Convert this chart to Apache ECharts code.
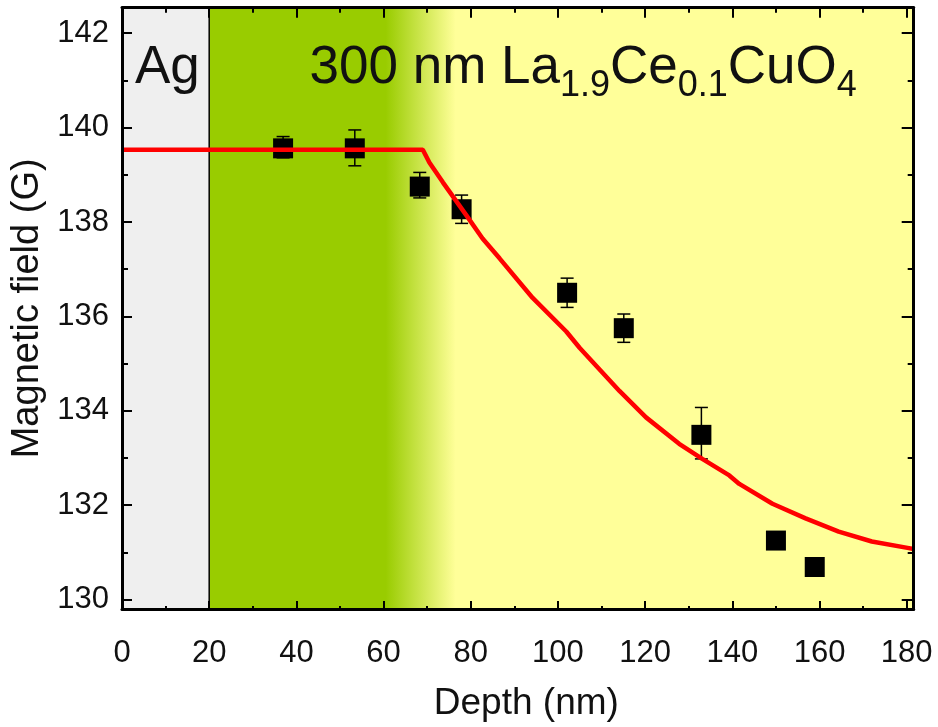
<!DOCTYPE html>
<html>
<head>
<meta charset="utf-8">
<script src="https://cdn.jsdelivr.net/npm/echarts@6/dist/echarts.min.js"></script>
<style>
  html, body { margin: 0; padding: 0; background: #fff; }
  #chart { width: 938px; height: 727px; }
</style>
</head>
<body>
<div id="chart"></div>
<script>
// Measured mean field vs. implantation depth
const depth     = [36.95, 53.4, 68.3, 77.9, 102.1, 115.1, 132.9, 150.0, 158.9];
const field     = [139.56, 139.56, 138.75, 138.27, 136.50, 135.75, 133.49, 131.25, 130.69];
const fieldHigh = [139.81, 139.95, 139.05, 138.57, 136.81, 136.05, 134.07, null, null];
const fieldLow  = [139.36, 139.19, 138.51, 137.97, 136.19, 135.45, 132.98, null, null];

// Model field profile (screened field below the film surface)
const fitDepth = [0, 69.0, 70.5, 73.6, 79.0, 82.7, 86.6, 94.2, 101.9, 105.0, 114.1, 120.2,
                  127.8, 133.1, 139.3, 141.6, 149.2, 156.8, 164.4, 172.0, 180.5, 181.6];
const fitField = [139.53, 139.53, 139.26, 138.84, 138.14, 137.65, 137.23, 136.39, 135.68, 135.33, 134.42, 133.86,
                  133.30, 132.98, 132.63, 132.45, 132.03, 131.72, 131.44, 131.23, 131.09, 131.07];

// Sample layers (nm)
const agLayer = [0, 20];
const filmLayer = [20, 181.6];
const filmFade = [60.5, 76.5];   // green to yellow transition inside the film

// Axis ranges and ticks
const xRange = [0, 181.6];
const yRange = [129.8, 142.54];
const xTicks = [0, 20, 40, 60, 80, 100, 120, 140, 160, 180];
const xMinorTicks = [10, 30, 50, 70, 90, 110, 130, 150, 170];
const yTicks = [130, 132, 134, 136, 138, 140, 142];
const yMinorTicks = [131, 133, 135, 137, 139, 141];

// Layer labels; the film formula is split into normal and subscript runs
const capLabel = 'Ag';
const filmLabel = [['300 nm La', false], ['1.9', true], ['Ce', false], ['0.1', true], ['CuO', false], ['4', true]];

const FONT = '"Liberation Sans", Arial, Helvetica, sans-serif';
const INK = '#111';
const MAIN_SIZE = 53, SUB_SIZE = 36;
const MID = 0.3465;              // alphabetic baseline below the em middle, in em

const chart = echarts.init(document.getElementById('chart'), null, { renderer: 'canvas' });

function axisBase(kind, pos, ticks, tickLen, opts) {
  const range = kind === 'x' ? xRange : yRange;
  return Object.assign({
    type: 'value',
    position: pos,
    min: range[0],
    max: range[1],
    z: 10,
    splitLine: { show: false },
    axisLine: { show: false, onZero: false },
    axisTick: {
      show: true, inside: true, length: tickLen, customValues: ticks,
      lineStyle: { color: '#000', width: 2 }
    },
    axisLabel: { show: false }
  }, opts || {});
}

const xAxes = [
  axisBase('x', 'bottom', xTicks, 8, {
    axisLine: { show: true, onZero: false, lineStyle: { color: '#000', width: 3 } },
    axisLabel: {
      show: true, customValues: xTicks, margin: 29,
      fontSize: 31, fontFamily: FONT, color: INK
    },
    name: 'Depth (nm)',
    nameLocation: 'middle',
    nameGap: 76,
    nameTextStyle: { fontSize: 37, fontFamily: FONT, color: INK, padding: [0, 0, 0, 17] }
  }),
  axisBase('x', 'bottom', xMinorTicks, 3),
  axisBase('x', 'top', xTicks, 10, {
    axisLine: { show: true, onZero: false, lineStyle: { color: '#000', width: 3 } }
  }),
  axisBase('x', 'top', xMinorTicks, 5)
];

const yAxes = [
  axisBase('y', 'left', yTicks, 10, {
    axisLine: { show: true, onZero: false, lineStyle: { color: '#000', width: 3 } },
    axisLabel: {
      show: true, customValues: yTicks, margin: 13,
      fontSize: 31, fontFamily: FONT, color: INK
    },
    name: 'Magnetic field (G)',
    nameLocation: 'middle',
    nameRotate: 90,
    nameGap: 75,
    nameTextStyle: { fontSize: 38, fontFamily: FONT, color: INK }
  }),
  axisBase('y', 'left', yMinorTicks, 6),
  axisBase('y', 'right', yTicks, 12, {
    axisLine: { show: true, onZero: false, lineStyle: { color: '#000', width: 3 } }
  }),
  axisBase('y', 'right', yMinorTicks, 6)
];

// Text runs for the layer labels, laid out one after another on a shared baseline
const measureCtx = document.createElement('canvas').getContext('2d');
function labelRuns(runs, x0, baseline) {
  const out = [];
  let x = x0;
  runs.forEach(([text, sub]) => {
    const size = sub ? SUB_SIZE : MAIN_SIZE;
    const base = sub ? baseline + 11.6 : baseline;
    const font = size + 'px ' + FONT;
    out.push({
      type: 'text', x: x, y: base - MID * size, z: 20, silent: true,
      style: { text: text, font: font, fill: INK, align: 'left', verticalAlign: 'middle' }
    });
    measureCtx.font = font;
    x += measureCtx.measureText(text).width;
  });
  return out;
}

// Layer backgrounds: silver cap and the cuprate film
const layers = [agLayer, filmLayer];
const filmFill = new echarts.graphic.LinearGradient(0, 0, 1, 0, [
  { offset: 0, color: '#99cc00' },
  { offset: (filmFade[0] - filmLayer[0]) / (filmLayer[1] - filmLayer[0]), color: '#99cc00' },
  { offset: (filmFade[1] - filmLayer[0]) / (filmLayer[1] - filmLayer[0]), color: '#ffff99' },
  { offset: 1, color: '#ffff99' }
]);
const layerFills = ['#efefef', filmFill];

const option = {
  animation: false,
  backgroundColor: '#ffffff',
  grid: { left: 122, right: 24.3, top: 7.7, bottom: 114.3, containLabel: false },
  xAxis: xAxes,
  yAxis: yAxes,
  graphic: [].concat(
    labelRuns([[capLabel, false]], 135, 86.7),
    labelRuns(filmLabel, 309.5, 86.7)
  ),
  series: [
    {
      type: 'custom',
      name: 'layers',
      silent: true,
      z: 0,
      xAxisIndex: 0, yAxisIndex: 0,
      data: layers.map(l => [l[0], l[1]]),
      renderItem(params, api) {
        const a = api.coord([api.value(0), yRange[1]]);
        const b = api.coord([api.value(1), yRange[0]]);
        return {
          type: 'rect',
          shape: { x: a[0], y: a[1], width: b[0] - a[0], height: b[1] - a[1] },
          style: { fill: layerFills[params.dataIndex] }
        };
      }
    },
    {
      type: 'custom',
      name: 'interface',
      silent: true,
      z: 1,
      xAxisIndex: 0, yAxisIndex: 0,
      data: [[agLayer[1]]],
      renderItem(params, api) {
        const a = api.coord([api.value(0), yRange[1]]);
        const b = api.coord([api.value(0), yRange[0]]);
        return {
          type: 'line',
          shape: { x1: a[0], y1: a[1], x2: b[0], y2: b[1] },
          style: { stroke: '#000', lineWidth: 1.5 }
        };
      }
    },
    {
      type: 'custom',
      name: 'error',
      silent: true,
      z: 2,
      xAxisIndex: 0, yAxisIndex: 0,
      data: depth.map((d, i) => [d, fieldLow[i], fieldHigh[i]]).filter(r => r[1] != null),
      renderItem(params, api) {
        const lo = api.coord([api.value(0), api.value(1)]);
        const hi = api.coord([api.value(0), api.value(2)]);
        const cap = 6.5;
        const st = { stroke: '#000', lineWidth: 1.5 };
        return {
          type: 'group',
          children: [
            { type: 'line', shape: { x1: lo[0], y1: lo[1], x2: hi[0], y2: hi[1] }, style: st },
            { type: 'line', shape: { x1: hi[0] - cap, y1: hi[1], x2: hi[0] + cap, y2: hi[1] }, style: st },
            { type: 'line', shape: { x1: lo[0] - cap, y1: lo[1], x2: lo[0] + cap, y2: lo[1] }, style: st }
          ]
        };
      }
    },
    {
      type: 'scatter',
      name: 'data',
      z: 3,
      xAxisIndex: 0, yAxisIndex: 0,
      symbol: 'rect',
      symbolSize: [20, 20],
      itemStyle: { color: '#000', opacity: 1 },
      data: depth.map((d, i) => [d, field[i]])
    },
    {
      type: 'line',
      name: 'model',
      z: 4,
      xAxisIndex: 0, yAxisIndex: 0,
      showSymbol: false,
      symbol: 'none',
      smooth: false,
      clip: true,
      lineStyle: { color: '#ff0000', width: 4.5 },
      data: fitDepth.map((d, i) => [d, fitField[i]])
    }
  ]
};

chart.setOption(option);
</script>
</body>
</html>
